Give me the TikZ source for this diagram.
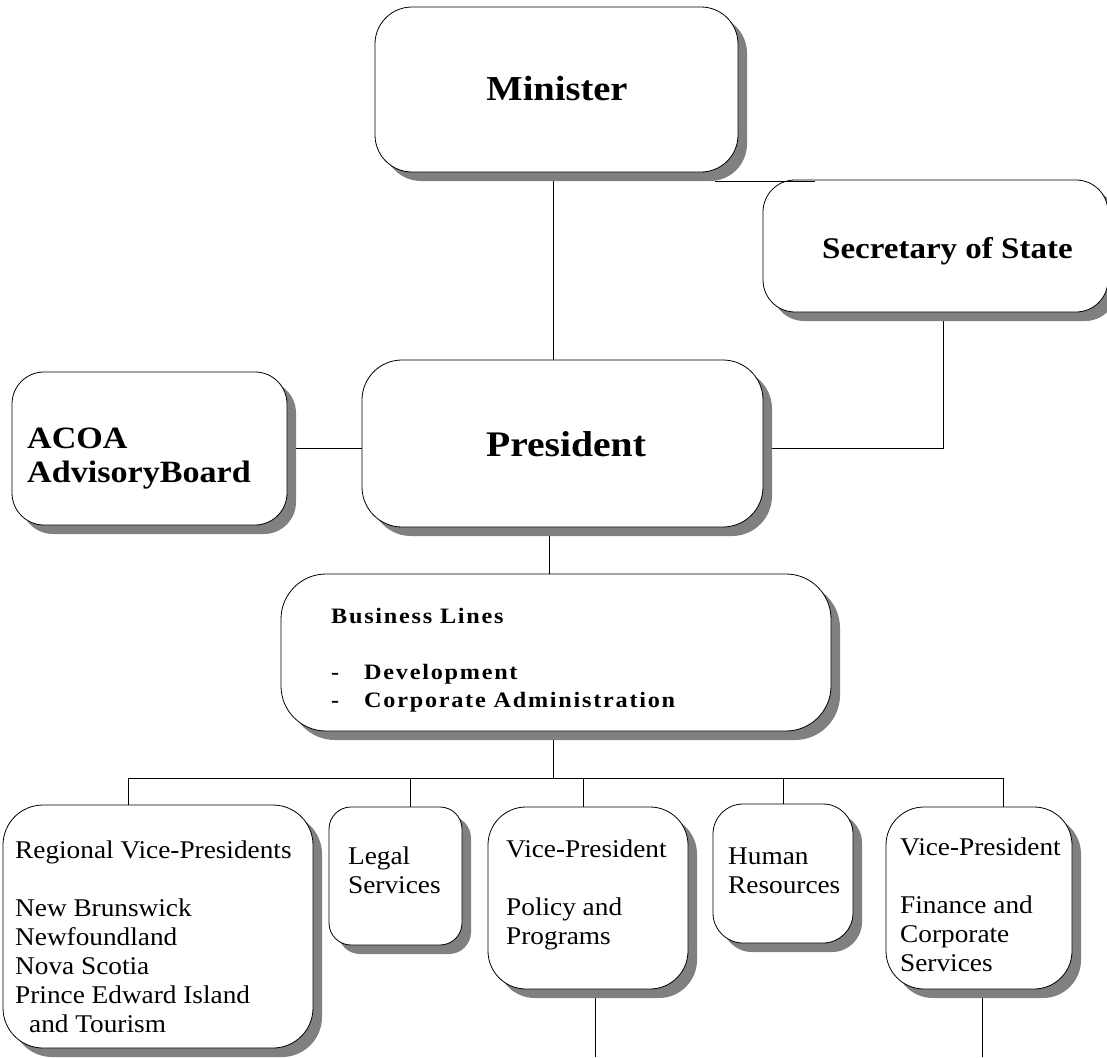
\documentclass[tikz,border=0pt]{standalone}
\usepackage{fontspec}
\setmainfont{Liberation Serif}
\newfontfamily\rfam[FakeStretch=1.07]{Liberation Serif}
\newfontfamily\bfam[FakeStretch=1.1]{Liberation Serif}
\newfontfamily\blfam[FakeStretch=1.1,LetterSpace=8]{Liberation Serif}
\usetikzlibrary{shadows}
\pgfdeclarelayer{background}
\pgfsetlayers{background,main}
\newcommand{\txtrows}[1]{\begin{tabular}[t]{@{}l@{}}#1\end{tabular}}
\begin{document}
\begin{tikzpicture}[x=1pt,y=-1pt,
  rbox/.style={draw=black, fill=white, rounded corners=#1, inner sep=0pt, line width=0.8pt,
    drop shadow={shadow xshift=9pt, shadow yshift=-9pt, fill=black!50, opacity=1}},
  conn/.style={draw=black, line width=0.8pt},
  boldtxt/.style={inner sep=0pt, font=\bfam\bfseries\fontsize{#1}{#1}\selectfont},
  regtxt/.style={inner sep=0pt, anchor=base west, font=\rfam\fontsize{25.5}{29}\selectfont},
  bltxt/.style={inner sep=0pt, anchor=base west, font=\blfam\bfseries\fontsize{22}{28}\selectfont}]
\useasboundingbox (0,0) rectangle (1107,1057);
\clip (0,0) rectangle (1107,1057);
% boxes
\node[rbox=37pt, minimum width=363pt, minimum height=165pt] (min) at (556.5,89.5) {};
\node[rbox=32pt, minimum width=345pt, minimum height=132pt] (sec) at (935.5,246) {};
\node[rbox=40pt, minimum width=401pt, minimum height=167pt] (pres) at (562.5,443.5) {};
\node[rbox=32pt, minimum width=275pt, minimum height=153pt] (acoa) at (149.5,448.5) {};
\node[rbox=45pt, minimum width=550pt, minimum height=157pt] (bl) at (556,652.5) {};
\node[rbox=40pt, minimum width=310pt, minimum height=243pt] (reg) at (158,926.5) {};
\node[rbox=22pt, minimum width=133pt, minimum height=138pt] (legal) at (395.5,876) {};
\node[rbox=38pt, minimum width=200pt, minimum height=182pt] (pol) at (588,898) {};
\node[rbox=30pt, minimum width=140pt, minimum height=139pt] (hr) at (783,873.5) {};
\node[rbox=38pt, minimum width=186pt, minimum height=182pt] (fin) at (979,898) {};
% texts
\node[boldtxt=35, anchor=base] (tmin) at (557,100) {Minister};
\node[boldtxt=30, anchor=base west] (tsec) at (822,258) {Secretary of State};
\node[boldtxt=36, anchor=base] (tpres) at (566,456) {President};
\node[inner sep=0pt, anchor=base west, font=\bfam\bfseries\fontsize{31}{34}\selectfont] (tacoa) at (27,448)
  {\txtrows{ACOA\\AdvisoryBoard}};
\node[bltxt] (tbl) at (331,623)
  {\txtrows{Business Lines\\ \\ \makebox[33pt][l]{-}Development\\ \makebox[33pt][l]{-}Corporate Administration}};
\node[regtxt] (treg) at (15,858)
  {\txtrows{Regional Vice-Presidents\\ \\ New Brunswick\\ Newfoundland\\ Nova Scotia\\ Prince Edward Island\\ \hspace*{14pt}and Tourism}};
\node[regtxt] (tlegal) at (348,864) {\txtrows{Legal\\ Services}};
\node[regtxt] (tpol) at (506,857) {\txtrows{Vice-President\\ \\ Policy and\\ Programs}};
\node[regtxt] (thr) at (728,864) {\txtrows{Human\\ Resources}};
\node[regtxt] (tfin) at (900,855) {\txtrows{Vice-President\\ \\ Finance and\\ Corporate\\ Services}};
% Minister to Secretary of State link, along the top edge of the Secretary box
\draw[conn] ([xshift=158.5pt,yshift=-9pt]min.south) -- ++(100,0);
% connectors behind the boxes
\coordinate (bus) at (553,778);
\coordinate (polend) at (595,1057);
\coordinate (finend) at (982,1057);
\begin{pgfonlayer}{background}
\fill[white] (0,0) rectangle (1107,1057);
\draw[conn] ([xshift=-3.5pt]min.center) -- ([xshift=-3.5pt]min.center |- pres.center);
\draw[conn] ([xshift=7.5pt]sec.center) |- ([yshift=-4.5pt]pres.center);
\draw[conn] (acoa.center) -- (acoa.center -| pres.center);
\draw[conn] ([xshift=-13.5pt]pres.center) -- ([xshift=-13.5pt]pres.center |- bl.center);
\draw[conn] ([xshift=-3pt]bl.center) -- (bus);
\draw[conn] ([xshift=-30pt]reg.center) |- ([xshift=24pt]fin.center |- bus) -- ([xshift=24pt]fin.center);
\draw[conn] ([xshift=14.5pt]legal.center) -- ([xshift=14.5pt]legal.center |- bus);
\draw[conn] ([xshift=-5pt]pol.center) -- ([xshift=-5pt]pol.center |- bus);
\draw[conn] (hr.center) -- (hr.center |- bus);
\draw[conn] (pol.center -| polend) -- (polend);
\draw[conn] (fin.center -| finend) -- (finend);
\end{pgfonlayer}
\end{tikzpicture}
\end{document}
